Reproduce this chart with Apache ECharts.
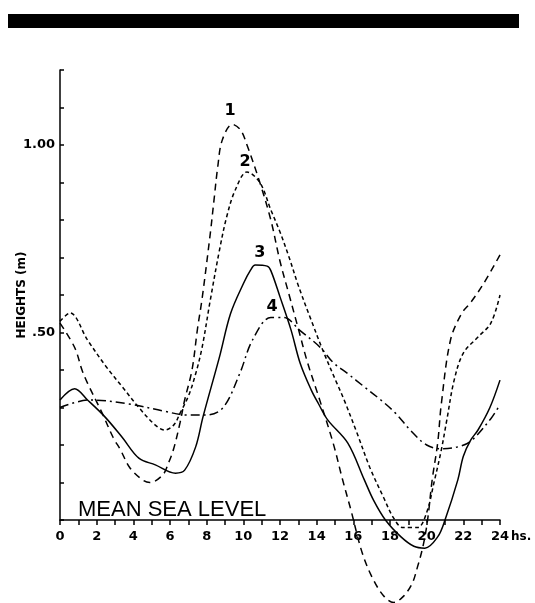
<!DOCTYPE html>
<html>
<head>
<meta charset="utf-8">
<title>Heights</title>
<script src="https://cdn.jsdelivr.net/npm/echarts/dist/echarts.min.js"></script>
<style>
html, body { margin: 0; padding: 0; background: #fff; }
#chart { width: 535px; height: 603px; }
</style>
</head>
<body>
<div id="chart"></div>
<script>
// readings taken off the figure, hours vs heights (m)
var curve1Hours = [0, 0.8, 1.2, 1.5, 2.3, 2.9, 3.3, 3.8, 4.5, 4.9, 5.6, 5.9, 6.2, 6.55, 6.8, 7.2, 7.5, 7.75, 8.2, 8.4, 8.6, 8.85, 9.4, 9.85, 10.2, 10.9, 11.5, 12, 12.5, 13, 13.5, 14.1, 14.9, 15.4, 15.85, 16.5, 17.1, 17.7, 18.2, 18.7, 19.2, 19.5, 19.8, 20.05, 20.3, 20.6, 20.8, 21.3, 21.9, 22.4, 23.1, 24];
var curve1Heights = [0.525, 0.46, 0.40, 0.365, 0.285, 0.22, 0.187, 0.14, 0.107, 0.10, 0.12, 0.15, 0.19, 0.26, 0.32, 0.40, 0.51, 0.59, 0.765, 0.853, 0.94, 1.013, 1.055, 1.04, 1.0, 0.9, 0.8, 0.69, 0.6, 0.51, 0.42, 0.33, 0.205, 0.11, 0.03, -0.09, -0.16, -0.205, -0.22, -0.205, -0.17, -0.125, -0.07, 0, 0.107, 0.205, 0.31, 0.48, 0.55, 0.58, 0.63, 0.707];

var curve2Hours = [0, 0.55, 1.5, 2.5, 3.4, 4.3, 5.2, 5.7, 6.2, 6.55, 7.0, 7.4, 7.75, 8.2, 8.7, 9.1, 9.56, 10.2, 10.9, 11.5, 12.0, 12.5, 13.0, 13.7, 14.4, 15.1, 15.5, 16.2, 16.9, 17.65, 18.2, 18.7, 19.5, 20.0, 20.4, 20.8, 21.1, 21.5, 22.0, 22.8, 23.5, 24];
var curve2Heights = [0.53, 0.552, 0.48, 0.41, 0.355, 0.30, 0.253, 0.24, 0.253, 0.285, 0.33, 0.39, 0.46, 0.587, 0.72, 0.81, 0.88, 0.928, 0.90, 0.827, 0.768, 0.70, 0.625, 0.533, 0.445, 0.365, 0.32, 0.232, 0.14, 0.06, 0.005, -0.02, -0.02, 0.02, 0.1, 0.187, 0.267, 0.373, 0.445, 0.488, 0.525, 0.6];

var curve3Hours = [0, 0.8, 1.5, 2.45, 3.4, 4.3, 5.2, 6.3, 6.8, 7.4, 7.8, 8.7, 9.3, 10.0, 10.4, 10.65, 11.3, 11.5, 12, 12.6, 13.1, 13.7, 14.1, 14.6, 15.7, 16.6, 17.1, 17.75, 18.6, 19.3, 19.9, 20.6, 21.0, 21.7, 22.0, 22.4, 22.8, 23.45, 24];
var curve3Heights = [0.32, 0.35, 0.32, 0.275, 0.22, 0.165, 0.147, 0.125, 0.133, 0.195, 0.275, 0.435, 0.55, 0.63, 0.667, 0.68, 0.677, 0.665, 0.595, 0.507, 0.418, 0.347, 0.31, 0.267, 0.205, 0.107, 0.053, 0, -0.045, -0.07, -0.075, -0.045, 0, 0.107, 0.17, 0.213, 0.24, 0.30, 0.373];

var curve4Hours = [0, 1.6, 3.7, 5.7, 6.9, 8.0, 8.9, 9.8, 10.5, 11.5, 12.2, 13.1, 14.2, 14.9, 15.7, 16.6, 17.5, 18.3, 19.1, 20.0, 20.8, 21.7, 22.4, 23.5, 23.9];
var curve4Heights = [0.30, 0.32, 0.31, 0.29, 0.28, 0.28, 0.30, 0.39, 0.48, 0.54, 0.54, 0.505, 0.46, 0.42, 0.39, 0.355, 0.32, 0.285, 0.24, 0.20, 0.19, 0.195, 0.21, 0.27, 0.30];

var curveNames = ["1", "2", "3", "4"];
var curveLabelAt = [[9.27, 1.09], [10.1, 0.955], [10.9, 0.712], [11.57, 0.568]];
var yTickLabels = { "0.5": ".50", "1": "1.00" };

function pairs(xs, ys) {
    return xs.map(function (x, i) { return [x, ys[i]]; });
}

function curve(idx, xs, ys, dash) {
    return {
        name: curveNames[idx],
        type: "line",
        data: pairs(xs, ys),
        showSymbol: false,
        smooth: 0.35,
        clip: false,
        lineStyle: { color: "#000", width: 1.5, type: dash },
        markPoint: {
            symbol: "circle",
            symbolSize: 0,
            label: {
                show: true,
                formatter: curveNames[idx],
                color: "#000",
                fontFamily: "DejaVu Sans",
                fontWeight: "bold",
                fontSize: 16
            },
            data: [{ coord: curveLabelAt[idx] }]
        }
    };
}

var chart = echarts.init(document.getElementById("chart"));
chart.setOption({
    animation: false,
    backgroundColor: "#fff",
    graphic: [
        {
            type: "rect",
            shape: { x: 8, y: 14, width: 511, height: 14 },
            style: { fill: "#000" }
        },
        {
            type: "text",
            left: 78,
            top: 499,
            style: {
                text: "MEAN SEA LEVEL",
                fill: "#000",
                font: "22px 'Liberation Sans'"
            }
        }
    ],
    grid: {
        left: 60, right: 35, top: 70, bottom: 83,
        containLabel: false,
        outerBoundsMode: "none"
    },
    xAxis: {
        type: "value",
        min: 0,
        max: 24,
        interval: 1,
        name: "hs.",
        nameLocation: "end",
        nameGap: 11,
        nameMoveOverlap: false,
        nameTextStyle: {
            color: "#000",
            fontFamily: "DejaVu Sans",
            fontWeight: "bold",
            fontSize: 12,
            verticalAlign: "top",
            padding: [11, 0, 0, 0]
        },
        splitLine: { show: false },
        axisLine: { lineStyle: { color: "#000", width: 1.5 } },
        axisTick: { inside: false, length: 5, lineStyle: { color: "#000", width: 1.5 } },
        axisLabel: {
            margin: 10,
            color: "#000",
            fontFamily: "DejaVu Sans",
            fontWeight: "bold",
            fontSize: 13,
            formatter: function (v) {
                return v % 2 === 0 ? String(v) : "";
            }
        }
    },
    yAxis: {
        type: "value",
        min: 0,
        max: 1.2,
        interval: 0.1,
        name: "HEIGHTS (m)",
        nameLocation: "middle",
        nameRotate: 90,
        nameGap: 32,
        nameMoveOverlap: false,
        nameTextStyle: {
            color: "#000",
            fontFamily: "DejaVu Sans",
            fontWeight: "bold",
            fontSize: 12
        },
        splitLine: { show: false },
        axisLine: { show: true, lineStyle: { color: "#000", width: 1.5 } },
        axisTick: { inside: true, length: 4, lineStyle: { color: "#000", width: 1.5 } },
        axisLabel: {
            margin: 5,
            color: "#000",
            fontFamily: "DejaVu Sans",
            fontWeight: "bold",
            fontSize: 13,
            formatter: function (v) {
                var k = String(Math.round(v * 10) / 10);
                return yTickLabels[k] || "";
            }
        }
    },
    series: [
        curve(0, curve1Hours, curve1Heights, [7, 5]),
        curve(1, curve2Hours, curve2Heights, [4, 3]),
        curve(2, curve3Hours, curve3Heights, "solid"),
        curve(3, curve4Hours, curve4Heights, [9, 4, 2, 4])
    ]
});
</script>
</body>
</html>
